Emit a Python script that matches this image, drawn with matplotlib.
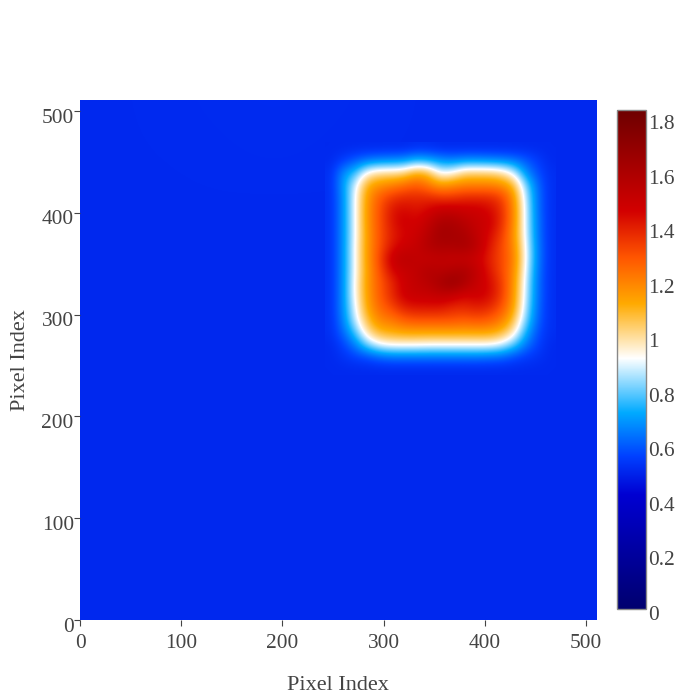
import numpy as np
import matplotlib
matplotlib.use("Agg")
import matplotlib.pyplot as plt
from matplotlib.colors import LinearSegmentedColormap
from matplotlib.transforms import ScaledTranslation

plt.rcParams['font.family'] = ['Liberation Serif', 'DejaVu Serif']

# background values, coarse grid, bottom row first
bg_x = [0, 64, 128, 192, 256, 320, 384, 448, 512]
bg_y = [0, 64, 128, 192, 256, 320, 384, 448, 512]
bg_z = [
    [0.510, 0.510, 0.507, 0.510, 0.510, 0.510, 0.510, 0.510, 0.510],
    [0.510, 0.507, 0.510, 0.507, 0.510, 0.510, 0.507, 0.510, 0.510],
    [0.510, 0.510, 0.510, 0.510, 0.507, 0.510, 0.510, 0.510, 0.510],
    [0.510, 0.510, 0.507, 0.510, 0.510, 0.510, 0.510, 0.507, 0.510],
    [0.510, 0.510, 0.510, 0.510, 0.510, 0.510, 0.510, 0.510, 0.510],
    [0.510, 0.507, 0.510, 0.510, 0.510, 0.510, 0.510, 0.510, 0.510],
    [0.510, 0.510, 0.510, 0.507, 0.510, 0.510, 0.510, 0.510, 0.510],
    [0.510, 0.510, 0.510, 0.513, 0.510, 0.510, 0.510, 0.510, 0.510],
    [0.510, 0.510, 0.513, 0.515, 0.513, 0.510, 0.510, 0.510, 0.510],
]

# bright square, 12 px step, top row first
sq_x = list(range(248, 465, 12))
sq_y = list(range(463, 246, -12))
sq_z = [
    [.51, .51, .51, .51, .51, .51, .51, .52, .52, .51, .51, .51, .51, .51, .51, .51, .51, .51, .51],
    [.51, .55, .60, .64, .66, .67, .68, .74, .72, .68, .66, .68, .68, .67, .66, .64, .60, .55, .51],
    [.52, .68, .76, .95, 1.0, 1.0, 1.02, 1.12, 1.08, .90, .93, 1.03, 1.03, 1.03, 1.0, .90, .68, .58, .52],
    [.52, .70, .89, 1.12, 1.17, 1.2, 1.24, 1.28, 1.22, 1.15, 1.18, 1.2, 1.2, 1.2, 1.18, 1.1, .82, .62, .52],
    [.52, .68, .92, 1.16, 1.28, 1.35, 1.38, 1.38, 1.38, 1.35, 1.35, 1.38, 1.38, 1.38, 1.34, 1.18, .87, .63, .52],
    [.52, .68, .92, 1.17, 1.3, 1.42, 1.45, 1.42, 1.45, 1.5, 1.5, 1.48, 1.48, 1.45, 1.38, 1.2, .89, .63, .52],
    [.52, .68, .92, 1.17, 1.3, 1.42, 1.48, 1.45, 1.52, 1.6, 1.6, 1.55, 1.5, 1.48, 1.38, 1.2, .89, .64, .52],
    [.52, .68, .92, 1.16, 1.3, 1.4, 1.45, 1.48, 1.55, 1.64, 1.62, 1.6, 1.52, 1.45, 1.35, 1.18, .90, .64, .52],
    [.52, .68, .93, 1.16, 1.3, 1.42, 1.48, 1.5, 1.58, 1.6, 1.6, 1.62, 1.55, 1.42, 1.32, 1.2, .92, .65, .52],
    [.52, .68, .93, 1.16, 1.32, 1.5, 1.55, 1.52, 1.5, 1.52, 1.5, 1.5, 1.48, 1.4, 1.32, 1.22, .93, .65, .52],
    [.52, .68, .93, 1.15, 1.3, 1.45, 1.5, 1.52, 1.58, 1.55, 1.58, 1.6, 1.52, 1.42, 1.32, 1.2, .91, .64, .52],
    [.52, .68, .94, 1.16, 1.28, 1.38, 1.48, 1.52, 1.55, 1.62, 1.68, 1.6, 1.5, 1.45, 1.35, 1.18, .89, .63, .52],
    [.52, .68, .94, 1.15, 1.28, 1.38, 1.48, 1.5, 1.5, 1.52, 1.5, 1.45, 1.48, 1.45, 1.35, 1.17, .88, .63, .52],
    [.52, .68, .91, 1.14, 1.25, 1.32, 1.4, 1.42, 1.42, 1.42, 1.38, 1.38, 1.4, 1.38, 1.3, 1.15, .86, .62, .52],
    [.52, .66, .88, 1.08, 1.2, 1.22, 1.28, 1.3, 1.3, 1.3, 1.3, 1.28, 1.3, 1.28, 1.22, 1.08, .82, .61, .52],
    [.52, .62, .78, 1.0, 1.1, 1.12, 1.14, 1.14, 1.14, 1.14, 1.14, 1.14, 1.14, 1.14, 1.1, .98, .74, .58, .52],
    [.51, .56, .66, .82, .92, .95, .95, .95, .94, .94, .94, .94, .94, .94, .90, .80, .65, .56, .51],
    [.51, .53, .56, .58, .62, .64, .64, .64, .64, .64, .64, .64, .64, .63, .62, .58, .55, .53, .51],
    [.51, .51, .51, .51, .51, .51, .51, .51, .51, .51, .51, .51, .51, .51, .51, .51, .51, .51, .51],
]

z_max = 1.83
cticks = [0, 0.2, 0.4, 0.6, 0.8, 1, 1.2, 1.4, 1.6, 1.8]
ctick_labels = ['0', '0.2', '0.4', '0.6', '0.8', '1', '1.2', '1.4', '1.6', '1.8']
xticks = [0, 100, 200, 300, 400, 500]

# colour stops: value, colour
stops = [
    (0.0, '#00006e'), (0.42, '#0000d2'), (0.56, '#0040ff'), (0.72, '#00aaff'),
    (0.92, '#ffffff'), (1.12, '#ffaa00'), (1.29, '#ff5500'), (1.46, '#d20000'),
    (1.83, '#6e0000'),
]
cmap = LinearSegmentedColormap.from_list('wave', [(v / z_max, c) for v, c in stops], N=2048)

fig = plt.figure(figsize=(7, 7), dpi=100)
W, H = 700.0, 700.0
ax = fig.add_axes([80 / W, 1 - 620 / H, 517 / W, 520 / H])
dx = 32
im = ax.imshow(bg_z, origin='lower', cmap=cmap, vmin=0, vmax=z_max, interpolation='bicubic',
               extent=[bg_x[0] - dx, bg_x[-1] + dx, bg_y[0] - dx, bg_y[-1] + dx], aspect='auto')
ax.imshow(sq_z, origin='upper', cmap=cmap, vmin=0, vmax=z_max, interpolation='bicubic',
          extent=[sq_x[0] - 6, sq_x[-1] + 6, sq_y[-1] - 6, sq_y[0] + 6], aspect='auto')
ax.set_xlim(0, 511)
ax.set_ylim(0, 511)
for s in ax.spines.values():
    s.set_visible(False)
ax.set_xticks(xticks)
ax.set_yticks(xticks)
ax.tick_params(length=4, width=0.8, color='#444444', labelcolor='#444444', labelsize=15.4)
ax.tick_params(axis='x', pad=6)
ax.tick_params(axis='y', pad=0.5)
ax.set_xlabel('Pixel Index', fontsize=16, color='#444444')
ax.set_ylabel('Pixel Index', fontsize=16, color='#444444')
ax.xaxis.set_label_coords(0.499, -0.108)
ax.yaxis.set_label_coords(-0.097, 0.5)
for lab in ax.get_yticklabels():
    lab.set_transform(lab.get_transform() + ScaledTranslation(0, -4.5 / 100, fig.dpi_scale_trans))

cax = fig.add_axes([617 / W, 1 - 609 / H, 29 / W, 499 / H])
cb = fig.colorbar(im, cax=cax)
cb.set_ticks(cticks)
cb.set_ticklabels(ctick_labels)
cb.outline.set_edgecolor('#888888')
cb.outline.set_linewidth(1)
cax.tick_params(length=0, labelcolor='#444444', labelsize=15.4, pad=1.5)
for lab in cax.get_yticklabels():
    lab.set_transform(lab.get_transform() + ScaledTranslation(0, -4 / 100, fig.dpi_scale_trans))

fig.savefig('out.png', dpi=100)
